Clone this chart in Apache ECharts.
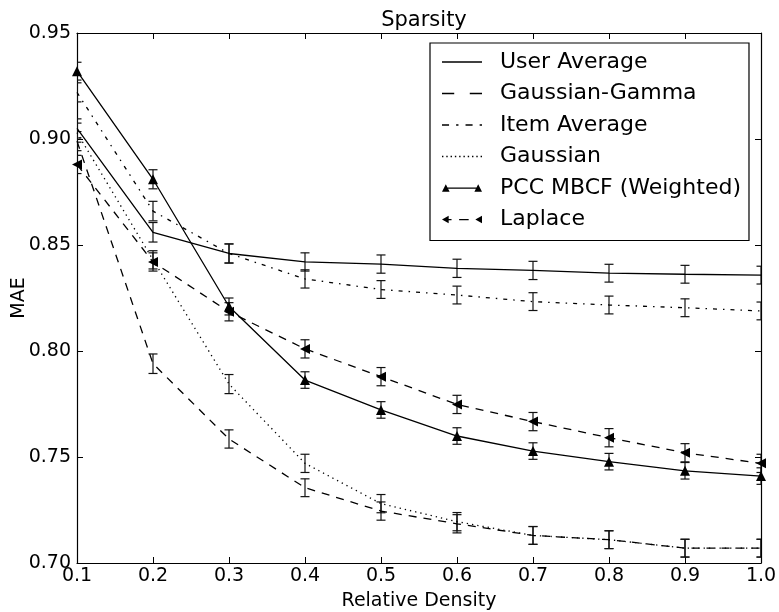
<!DOCTYPE html>
<html>
<head>
<meta charset="utf-8">
<script src="https://cdn.jsdelivr.net/npm/echarts@6/dist/echarts.min.js"></script>
<style>
html,body{margin:0;padding:0;background:#fff;}
#chart{width:779px;height:612px;}
</style>
</head>
<body>
<div id="chart"></div>
<script>
// ---- data ----
const density = [0.1, 0.2, 0.3, 0.4, 0.5, 0.6, 0.7, 0.8, 0.9, 1.0];
const userAverage   = [0.905, 0.856, 0.846, 0.842, 0.841, 0.839, 0.838, 0.8367, 0.8362, 0.8358];
const userAvgErr    = [0.0045, 0.0046, 0.0045, 0.0043, 0.0043, 0.0043, 0.0043, 0.0042, 0.0042, 0.0042];
const gaussGamma    = [0.899, 0.794, 0.7585, 0.7355, 0.7245, 0.7185, 0.713, 0.711, 0.707, 0.707];
const gaussGammaErr = [0.0045, 0.0046, 0.0043, 0.0042, 0.0043, 0.0043, 0.0042, 0.0042, 0.0042, 0.0042];
const itemAverage   = [0.922, 0.866, 0.846, 0.834, 0.829, 0.8264, 0.8233, 0.8217, 0.8204, 0.8189];
const itemAvgErr    = [0.0045, 0.0046, 0.0045, 0.0043, 0.0042, 0.0042, 0.0042, 0.0042, 0.0042, 0.0042];
const gaussian      = [0.903, 0.843, 0.7844, 0.747, 0.728, 0.7195, 0.713, 0.711, 0.707, 0.707];
const gaussianErr   = [0.0045, 0.0043, 0.0045, 0.0043, 0.0043, 0.0043, 0.0042, 0.0042, 0.0042, 0.0042];
const pccMbcf       = [0.932, 0.881, 0.821, 0.7863, 0.7722, 0.7599, 0.7528, 0.7478, 0.7435, 0.741];
const pccErr        = [0.0042, 0.0045, 0.004, 0.0039, 0.0039, 0.0039, 0.0039, 0.0039, 0.0039, 0.0039];
const laplace       = [0.888, 0.842, 0.8185, 0.801, 0.7879, 0.7748, 0.7667, 0.7591, 0.752, 0.747];
const laplaceErr    = [0.0043, 0.0043, 0.0043, 0.0043, 0.0043, 0.0043, 0.0043, 0.0043, 0.0043, 0.0043];
const yTicks = [0.70, 0.75, 0.80, 0.85, 0.90, 0.95];
const xTicks = [0.1, 0.2, 0.3, 0.4, 0.5, 0.6, 0.7, 0.8, 0.9, 1.0];
const seriesNames = ['User Average','Gaussian-Gamma','Item Average','Gaussian','PCC MBCF (Weighted)','Laplace'];

const FONT = 'DejaVu Sans';
const chart = echarts.init(document.getElementById('chart'), null, {renderer: 'canvas'});

function pairs(vals){ return density.map((x,i)=>[x, vals[i]]); }
function errData(vals, errs){ return density.map((x,i)=>[x, vals[i]-errs[i], vals[i]+errs[i]]); }

function errRender(params, api){
  const x = api.value(0), lo = api.value(1), hi = api.value(2);
  const p1 = api.coord([x, hi]), p2 = api.coord([x, lo]);
  const cs = params.coordSys;
  const cw = 4.5;
  const xl = Math.max(cs.x, p1[0]-cw), xr = Math.min(cs.x + cs.width, p1[0]+cw);
  const st = {stroke:'#111', lineWidth:1.2};
  return {type:'group', children:[
    {type:'line', shape:{x1:p1[0], y1:p1[1], x2:p2[0], y2:p2[1]}, style:st},
    {type:'line', shape:{x1:xl, y1:p1[1], x2:xr, y2:p1[1]}, style:st},
    {type:'line', shape:{x1:xl, y1:p2[1], x2:xr, y2:p2[1]}, style:st}
  ]};
}

function lineSeries(name, vals, dash, symbol, rotate){
  return {
    name: name, type:'line', data: pairs(vals),
    xAxisIndex:0, yAxisIndex:0,
    symbol: symbol || 'none', symbolSize: 10, symbolRotate: rotate || 0,
    showSymbol: !!symbol,
    itemStyle:{color:'#000'},
    lineStyle:{color:'#000', width:1.3, type: dash},
    clip: true, z: 3, animation:false
  };
}
function errSeries(vals, errs){
  return {
    type:'custom', renderItem: errRender, data: errData(vals, errs),
    xAxisIndex:0, yAxisIndex:0, encode:{x:0, y:[1,2]}, clip:true, z:2,
    silent:true, animation:false
  };
}

// legend sample icons (line styles as small paths)
function rect(x0, x1, y0, h){ return 'M'+x0+','+y0+' L'+x1+','+y0+' L'+x1+','+(y0+h)+' L'+x0+','+(y0+h)+' Z '; }
const H = 1.3;
const iconSolid  = 'path://' + rect(0, 36, 0, H);
const iconDashed = 'path://' + rect(0, 11, 0, H) + rect(25, 36, 0, H);
const iconDashDot = 'path://' + rect(0, 6, 0, H) + rect(12, 14, 0, H) + rect(20, 26, 0, H) + rect(32, 34, 0, H);
let dots = ''; for (let k = 0; k <= 9; k++) dots += rect(k*4, k*4+1.3, 0, H);
const iconDotted = 'path://' + dots;
const iconPcc = 'path://M0,8 L4,0 L8,8 Z M34,8 L38,0 L42,8 Z ' + rect(4, 38, 3.4, 1.3);
const iconLaplace = 'path://M0,4 L7,0 L7,8 Z M35,4 L42,0 L42,8 Z ' + rect(7, 10, 3.4, 1.3) + rect(18, 28, 3.4, 1.3);
const legendIcons = [iconSolid, iconDashed, iconDashDot, iconDotted, iconPcc, iconLaplace];

const axisCommon = {
  axisLine:{show:true, lineStyle:{color:'#000', width:1.2}},
  axisTick:{show:true, inside:true, length:6, lineStyle:{color:'#000', width:1}},
  splitLine:{show:false}
};

const option = {
  backgroundColor:'#fff',
  animation:false,
  title:{
    text:'Sparsity', left: 419, top: 5, textAlign:'center',
    textStyle:{fontFamily:FONT, fontSize:21, fontWeight:'normal', color:'#000'}
  },
  grid:{left:77, right:18, top:33, bottom:49, containLabel:false, outerBoundsMode:'none'},
  legend:{
    data: seriesNames.map((n,i)=>({name:n, icon: legendIcons[i]})),
    orient:'vertical', left:430, top:43,
    padding:[8, 8, 10, 12],
    itemWidth:40, itemHeight:12, itemGap:9.5,
    symbolKeepAspect:true,
    borderColor:'#000', borderWidth:1.2, backgroundColor:'#fff',
    textStyle:{fontFamily:FONT, fontSize:22, color:'#000', lineHeight:22, padding:[0,0,0,13]},
    selectedMode:false
  },
  xAxis:[
    Object.assign({}, axisCommon, {
      type:'value', position:'bottom', min:0.1, max:1.0, interval:0.1,
      name:'Relative Density', nameLocation:'middle', nameGap:29, nameMoveOverlap:false,
      nameTextStyle:{fontFamily:FONT, fontSize:19, color:'#000'},
      axisLabel:{fontFamily:FONT, fontSize:19, color:'#000', margin:4,
        formatter:v=>Number(v).toFixed(1)}
    }),
    Object.assign({}, axisCommon, {
      type:'value', position:'top', min:0.1, max:1.0, interval:0.1,
      axisLabel:{show:false}
    })
  ],
  yAxis:[
    Object.assign({}, axisCommon, {
      type:'value', position:'left', min:0.70, max:0.95, interval:0.05,
      name:'MAE', nameLocation:'middle', nameGap:48, nameMoveOverlap:false,
      nameTextStyle:{fontFamily:FONT, fontSize:19, color:'#000'},
      axisLabel:{fontFamily:FONT, fontSize:19, color:'#000', margin:6,
        formatter:v=>Number(v).toFixed(2)}
    }),
    Object.assign({}, axisCommon, {
      type:'value', position:'right', min:0.70, max:0.95, interval:0.05,
      axisLabel:{show:false}
    })
  ],
  series:[
    errSeries(userAverage, userAvgErr),
    errSeries(gaussGamma, gaussGammaErr),
    errSeries(itemAverage, itemAvgErr),
    errSeries(gaussian, gaussianErr),
    errSeries(pccMbcf, pccErr),
    errSeries(laplace, laplaceErr),
    lineSeries(seriesNames[0], userAverage, 'solid'),
    lineSeries(seriesNames[1], gaussGamma, [8,7]),
    lineSeries(seriesNames[2], itemAverage, [4,6,1.5,6]),
    lineSeries(seriesNames[3], gaussian, [1.3,4]),
    lineSeries(seriesNames[4], pccMbcf, 'solid', 'triangle', 0),
    lineSeries(seriesNames[5], laplace, [8,7], 'triangle', 90)
  ]
};
chart.setOption(option);
</script>
</body>
</html>
